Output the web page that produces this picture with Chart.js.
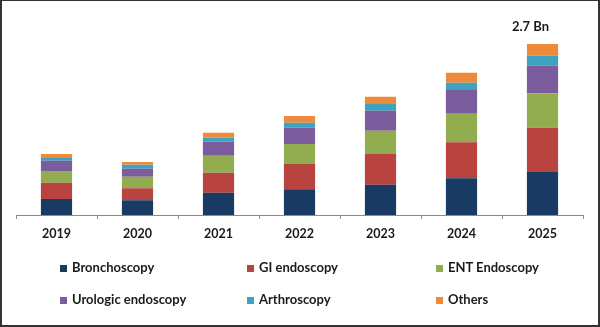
<!DOCTYPE html>
<html>
<head>
<meta charset="utf-8">
<script src="https://cdn.jsdelivr.net/npm/chart.js@4/dist/chart.umd.min.js"></script>
<style>
  html, body { margin: 0; padding: 0; background: #fff; }
  #wrap { position: relative; width: 600px; height: 327px; overflow: hidden; }
  #frame { position: absolute; left: 0; top: 0; width: 600px; height: 327px; box-sizing: border-box;
           border: 2px solid #333; border-top-width: 1px; pointer-events: none; }
  .leg { position: absolute; font-family: Lato, "Noto Sans", sans-serif; font-weight: bold; font-size: 13px;
         color: #1a1a1a; white-space: nowrap; line-height: 14px; }
  .leg i { display: inline-block; width: 7px; height: 7px; margin-right: 5px; vertical-align: 0; }
</style>
</head>
<body>
<div id="wrap">
  <canvas id="c" width="600" height="327"></canvas>
  <div id="legend"></div>
  <div id="frame"></div>
</div>
<script>
const categories = ["2019", "2020", "2021", "2022", "2023", "2024", "2025"];
const seriesNames = ["Bronchoscopy", "GI endoscopy", "ENT Endoscopy", "Urologic endoscopy", "Arthroscopy", "Others"];
const bronchoscopy = [0.253, 0.232, 0.352, 0.406, 0.478, 0.579, 0.679];
const giEndoscopy  = [0.257, 0.189, 0.316, 0.400, 0.485, 0.568, 0.700];
const entEndoscopy = [0.185, 0.183, 0.268, 0.316, 0.368, 0.453, 0.542];
const urologic     = [0.163, 0.126, 0.221, 0.257, 0.316, 0.374, 0.437];
const arthroscopy  = [0.052, 0.063, 0.063, 0.079, 0.106, 0.115, 0.158];
const others       = [0.052, 0.043, 0.079, 0.106, 0.115, 0.158, 0.185];
const topLabel = "2.7 Bn";
const topLabelIndex = 6;

const colors = ["#183A63", "#B8433F", "#92AD4F", "#7B5C9C", "#3FA2C0", "#EE8A3A"];
const values = [bronchoscopy, giEndoscopy, entEndoscopy, urologic, arthroscopy, others];

const labelPlugin = {
  id: 'topLabel',
  afterDatasetsDraw(chart) {
    const ctx = chart.ctx;
    const meta = chart.getDatasetMeta(values.length - 1);
    const bar = meta.data[topLabelIndex];
    let total = 0;
    values.forEach(v => total += v[topLabelIndex]);
    const y = chart.scales.y.getPixelForValue(total);
    ctx.save();
    ctx.font = 'bold 13px Lato, "Noto Sans", sans-serif';
    ctx.fillStyle = '#1a1a1a';
    ctx.textAlign = 'center';
    ctx.textBaseline = 'middle';
    ctx.fillText(topLabel, bar.x - 12, y - 17);
    ctx.restore();
  }
};

new Chart(document.getElementById('c'), {
  type: 'bar',
  data: {
    labels: categories,
    datasets: seriesNames.map((n, i) => ({
      label: n,
      data: values[i],
      backgroundColor: colors[i],
      borderWidth: 0,
      barPercentage: 0.385,
      categoryPercentage: 1
    }))
  },
  options: {
    responsive: false,
    animation: false,
    layout: { padding: { left: 16, right: 17, top: 25, bottom: 0 } },
    plugins: { legend: { display: false }, tooltip: { enabled: false } },
    scales: {
      x: {
        stacked: true,
        grid: { offset: true, drawOnChartArea: false, drawTicks: true, tickLength: 4, color: '#8a8a8a' },
        border: { display: true, color: '#8a8a8a', width: 1 },
        ticks: { padding: 7, color: '#1a1a1a', font: { family: 'Lato, "Noto Sans", sans-serif', weight: 'bold', size: 12.5 } },
        afterFit(scale) { scale.height = 112; }
      },
      y: { stacked: true, display: false, min: 0, max: 3.0 }
    }
  },
  plugins: [labelPlugin]
});

const legendPos = [[60, 260], [247, 260], [436, 260], [60, 292], [247, 292], [436, 292]];
const lg = document.getElementById('legend');
seriesNames.forEach((n, i) => {
  const d = document.createElement('div');
  d.className = 'leg';
  d.style.left = legendPos[i][0] + 'px';
  d.style.top = legendPos[i][1] + 'px';
  d.innerHTML = '<i style="background:' + colors[i] + '"></i>' + n;
  lg.appendChild(d);
});
</script>
</body>
</html>
